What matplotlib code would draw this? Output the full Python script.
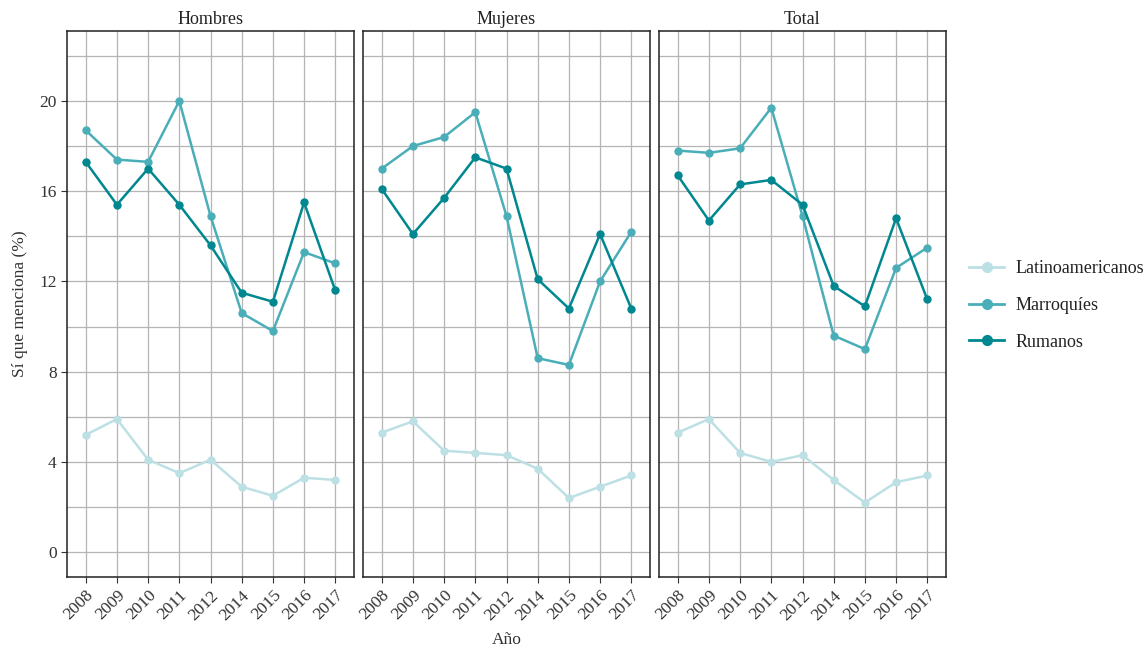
import numpy as np
import matplotlib.pyplot as plt
from matplotlib.lines import Line2D

plt.rcParams['font.family'] = ['Liberation Serif', 'DejaVu Serif']

# data
years = ['2008', '2009', '2010', '2011', '2012', '2014', '2015', '2016', '2017']
panels = ['Hombres', 'Mujeres', 'Total']
groups = ['Latinoamericanos', 'Marroquíes', 'Rumanos']

latino_h = [5.2, 5.9, 4.1, 3.5, 4.1, 2.9, 2.5, 3.3, 3.2]
marroq_h = [18.7, 17.4, 17.3, 20.0, 14.9, 10.6, 9.8, 13.3, 12.8]
rumanos_h = [17.3, 15.4, 17.0, 15.4, 13.6, 11.5, 11.1, 15.5, 11.6]

latino_m = [5.3, 5.8, 4.5, 4.4, 4.3, 3.7, 2.4, 2.9, 3.4]
marroq_m = [17.0, 18.0, 18.4, 19.5, 14.9, 8.6, 8.3, 12.0, 14.2]
rumanos_m = [16.1, 14.1, 15.7, 17.5, 17.0, 12.1, 10.8, 14.1, 10.8]

latino_t = [5.3, 5.9, 4.4, 4.0, 4.3, 3.2, 2.2, 3.1, 3.4]
marroq_t = [17.8, 17.7, 17.9, 19.7, 14.9, 9.6, 9.0, 12.6, 13.5]
rumanos_t = [16.7, 14.7, 16.3, 16.5, 15.4, 11.8, 10.9, 14.8, 11.2]

series = {
    'Hombres': [latino_h, marroq_h, rumanos_h],
    'Mujeres': [latino_m, marroq_m, rumanos_m],
    'Total': [latino_t, marroq_t, rumanos_t],
}
colors = ['#bde0e4', '#4aaeb9', '#00878f']

fig = plt.figure(figsize=(11.48, 6.47), dpi=100)

lefts = [67, 363, 659]
ax = []
for i, name in enumerate(panels):
    a = fig.add_axes([lefts[i] / 1148, 1 - 577 / 647, 287 / 1148, 546 / 647],
                     sharey=ax[0] if ax else None)
    ax.append(a)
    x = np.arange(len(years))
    for vals, c in zip(series[name], colors):
        a.plot(x, vals, color=c, lw=1.8, marker='o', ms=5, zorder=3)
    a.set_xlim(-0.6, len(years) - 0.4)
    a.set_ylim(-1.1, 23.1)
    a.set_xticks(x)
    a.set_xticklabels(years, rotation=45, ha='right', va='top',
                      rotation_mode='anchor', fontsize=12.5, color='#333333')
    a.set_yticks([0, 4, 8, 12, 16, 20])
    a.set_yticks([2, 6, 10, 14, 18, 22], minor=True)
    a.grid(True, which='both', color='#b5b5b5', lw=0.9, zorder=0)
    a.tick_params(which='minor', length=0)
    a.tick_params(axis='both', length=4, color='#333333', labelsize=12.5,
                  labelcolor='#333333')
    for s in a.spines.values():
        s.set_color('#222222')
        s.set_linewidth(1.1)
    a.set_title(name, fontsize=13, color='#222222', pad=5)
    if i > 0:
        a.tick_params(axis='y', which='both', length=0, labelleft=False)

ax[0].set_ylabel('Sí que menciona (%)', fontsize=12.5, color='#333333', labelpad=8)
ax[1].set_xlabel('Año', fontsize=12.5, color='#333333', labelpad=6)

handles = [Line2D([], [], color=c, lw=2, marker='o', ms=7) for c in colors]
fig.legend(handles, groups, loc='center left', bbox_to_anchor=(0.83, 0.528),
           frameon=False, fontsize=13, handlelength=1.95, handletextpad=0.6,
           labelspacing=1.1, labelcolor='#222222')

fig.savefig('out.png', dpi=100)
